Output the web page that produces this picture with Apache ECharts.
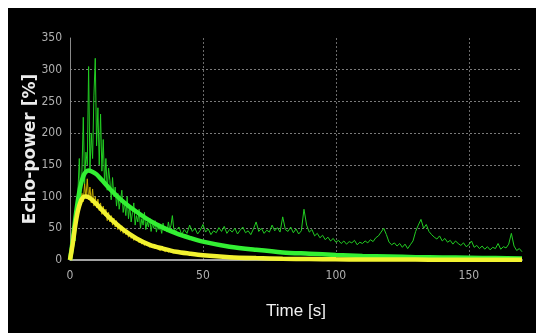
<!DOCTYPE html>
<html>
<head>
<meta charset="utf-8">
<script src="https://cdn.jsdelivr.net/npm/echarts@6/dist/echarts.min.js"></script>
<style>
html,body{margin:0;padding:0;background:#fff;}
#c{width:536px;height:333px;}
</style>
</head>
<body>
<div id="c"></div>
<script>
// Tick labels
const xTicks = [0, 50, 100, 150];
const yTicks = [0, 50, 100, 150, 200, 250, 300, 350];

// Raw green signal, 0 to 39.5 s (0.5 s steps)
const rawGreenEarly = [0,5,20,45,30,80,110,160,95,140,225,120,170,150,305,140,200,160,260,318,
  180,240,150,230,140,190,120,160,110,145,125,95,130,100,115,85,105,80,95,110,
  75,90,70,100,65,85,60,75,90,55,70,60,80,50,65,55,75,48,60,52,
  66,45,58,50,62,44,55,48,52,42,58,46,50,44,60,48,55,70,50,45];
// Raw green signal, 40 to 170 s (1 s steps)
const rawGreenLate = [44,52,40,48,42,55,45,50,41,47,56,44,49,40,46,43,51,45,53,42,
  48,44,50,41,47,52,43,46,40,49,60,45,50,42,47,44,55,46,51,44,
  68,48,45,52,43,49,41,46,80,55,44,48,38,42,35,39,32,36,30,34,
  28,31,26,30,25,29,27,31,24,28,26,30,27,32,29,35,38,44,50,40,
  28,24,27,22,26,20,25,18,24,30,45,55,64,50,56,45,40,36,33,38,
  30,34,28,31,25,30,26,23,27,21,24,30,20,23,18,22,17,21,16,20,
  18,26,17,21,19,25,42,22,15,18,13];
// Raw yellow signal, 0 to 39.5 s (0.5 s steps)
const rawYellowEarly = [0,8,22,40,50,72,70,95,85,105,92,120,98,128,95,115,90,112,85,100,
  82,96,78,90,72,85,70,80,62,75,60,70,55,66,52,62,48,57,45,54,
  42,50,40,47,36,43,34,40,31,37,30,35,27,32,25,30,23,28,22,26,
  20,25,19,23,18,22,17,20,15,19,15,18,13,17,12,16,12,15,11,14];
// Raw yellow signal, 40 to 90 s (1 s steps)
const rawYellowLate = [12,14,11,13,10,12,9,11,8,10,8,9,7,8,6,8,6,7,5,6,
  5,6,4,5,4,5,3,4,3,4,3,3,2.5,3,2,3,2,2.5,2,2,
  2,2.5,1.5,2,1.5,2,1.5,1.5,1,1.5,1];

// Fitted curves
const fitTimes  = [0,1,2,3,4,5,6,7,8,10,12,15,20,25,30,35,40,45,50,60,70,80,90,100,110,120,130,140,150,160,170];
const fitGreen  = [0,30,65,95,118,132,139,141,140,135,126,112,92,76,62,51,42,35,29,21,16,12,10,8,6.5,5.5,4.5,4,3.5,3,2.5];
const fitYellow = [0,25,55,78,92,99,100,99,96,88,79,66,48,34,24,18,13,10,7.5,4.5,3,2,1.5,1,0.8,0.7,0.6,0.5,0.4,0.35,0.3];

function pairs(early, late, lateStart) {
  const out = [];
  early.forEach((v, i) => out.push([i * 0.5, v]));
  late.forEach((v, i) => out.push([lateStart + i, v]));
  return out;
}
const greenRaw = pairs(rawGreenEarly, rawGreenLate, 40);
const yellowRaw = pairs(rawYellowEarly, rawYellowLate, 40);
const greenFit = fitTimes.map((t, i) => [t, fitGreen[i]]);
const yellowFit = fitTimes.map((t, i) => [t, fitYellow[i]]);

const chart = echarts.init(document.getElementById('c'), null, {renderer: 'canvas'});
const narrow = '"Liberation Sans Narrow", "DejaVu Sans Condensed", sans-serif';
chart.setOption({
  animation: false,
  backgroundColor: '#000',
  grid: {left: 70, right: 14, top: 38, bottom: 73, containLabel: false},
  xAxis: {
    type: 'value', min: 0, max: 170, interval: 50,
    axisLine: {show: true, lineStyle: {color: '#d8d8d8', width: 1.5}},
    axisTick: {show: false},
    axisLabel: {
      color: '#b0b0b0', fontFamily: narrow, fontSize: 12, margin: 10,
      formatter: v => (xTicks.indexOf(v) >= 0 ? String(v) : '')
    },
    splitLine: {show: true, showMinLine: false, showMaxLine: false,
      lineStyle: {color: '#6a6a6a', type: [2, 2], width: 1}}
  },
  yAxis: {
    type: 'value', min: 0, max: 350, interval: 50,
    axisLine: {show: true, lineStyle: {color: '#8a8a8a', width: 1}},
    axisTick: {show: false},
    axisLabel: {
      color: '#b0b0b0', fontFamily: narrow, fontSize: 12, margin: 8,
      formatter: v => (yTicks.indexOf(v) >= 0 ? String(v) : '')
    },
    splitLine: {show: true, showMinLine: false, showMaxLine: false,
      lineStyle: {color: '#7a7a7a', type: [2, 2], width: 1}}
  },
  graphic: [
    {type: 'rect', shape: {x: 0, y: 0, width: 536, height: 8}, style: {fill: '#fff'}, z: 100},
    {type: 'rect', shape: {x: 0, y: 0, width: 8, height: 333}, style: {fill: '#fff'}, z: 100},
    {type: 'text', x: 296, y: 311, style: {text: 'Time [s]', fill: '#f0f0f0',
      font: '17px "Liberation Sans Narrow", sans-serif', align: 'center', verticalAlign: 'middle'}},
    {type: 'text', x: 31, y: 149, rotation: Math.PI / 2, style: {text: 'Echo-power [%]', fill: '#ececec',
      font: 'bold 17px "DejaVu Sans", sans-serif', align: 'center', verticalAlign: 'middle'}}
  ],
  series: [
    {type: 'line', data: greenRaw, showSymbol: false, symbol: 'none',
      lineStyle: {color: '#22cc22', width: 1}, z: 2},
    {type: 'line', data: yellowRaw, showSymbol: false, symbol: 'none',
      lineStyle: {color: '#c8b000', width: 1}, z: 3},
    {type: 'line', data: greenFit, smooth: 0.3, showSymbol: false, symbol: 'none',
      lineStyle: {color: '#33f033', width: 4.5}, z: 4},
    {type: 'line', data: yellowFit, smooth: 0.3, showSymbol: false, symbol: 'none',
      lineStyle: {color: '#f2f230', width: 4.5}, z: 5}
  ]
});
</script>
</body>
</html>
